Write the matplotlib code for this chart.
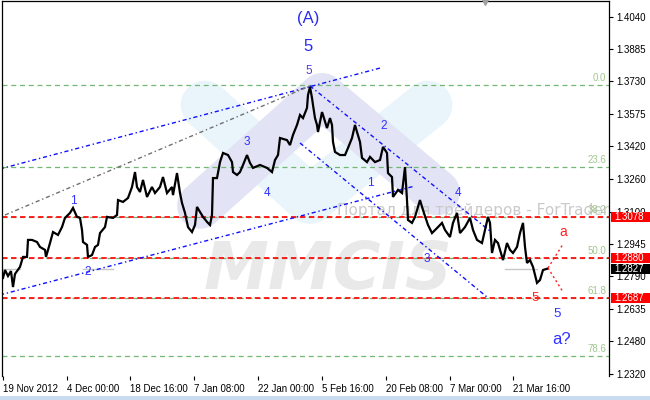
import matplotlib
matplotlib.use("Agg")
import matplotlib.pyplot as plt
import matplotlib.transforms as mtrans
from matplotlib.patches import Rectangle

# ---------------- data ----------------
bars = [3, 5, 8, 11, 13, 15, 20, 23, 27, 28, 32, 37, 40, 45, 46, 50, 53, 58, 62, 65,
        70, 73, 77, 80, 82, 83, 87, 88, 92, 95, 98, 100, 105, 107, 113, 117, 118, 123, 128, 132,
        135, 137, 140, 143, 147, 152, 155, 160, 163, 167, 172, 173, 177, 180, 182, 185, 188, 192, 195, 197,
        200, 203, 207, 210, 212, 213, 217, 220, 223, 228, 232, 233, 237, 240, 243, 247, 250, 253, 260, 267,
        272, 275, 278, 280, 287, 290, 293, 297, 300, 303, 307, 308, 310, 312, 313, 315, 317, 318, 322, 323,
        327, 330, 332, 333, 335, 340, 345, 348, 352, 355, 357, 360, 362, 367, 370, 375, 380, 383, 387, 388,
        392, 393, 398, 402, 405, 407, 408, 412, 415, 420, 423, 428, 432, 437, 442, 445, 450, 453, 457, 460,
        465, 470, 473, 477, 482, 485, 488, 490, 492, 495, 498, 502, 503, 507, 510, 513, 517, 520, 523, 525,
        527, 530, 533, 537, 540, 543, 547]
prices = [1.2783, 1.2821, 1.2792, 1.2816, 1.2739, 1.2802, 1.2836, 1.2884, 1.2884, 1.2966,
          1.2966, 1.2956, 1.2932, 1.2918, 1.2884, 1.2951, 1.3004, 1.2990, 1.3028, 1.3072,
          1.3096, 1.3120, 1.3077, 1.3072, 1.3014, 1.2956, 1.2942, 1.2884, 1.2893, 1.2932,
          1.2942, 1.2999, 1.3028, 1.3077, 1.3072, 1.3086, 1.3158, 1.3149, 1.3168, 1.3221,
          1.3293, 1.3221, 1.3197, 1.3255, 1.3173, 1.3221, 1.3192, 1.3221, 1.3269, 1.3192,
          1.3221, 1.3182, 1.3288, 1.3192, 1.3144, 1.3096, 1.3028, 1.3004, 1.3038, 1.3125,
          1.3101, 1.3077, 1.3053, 1.3038, 1.3086, 1.3264, 1.3264, 1.3341, 1.3385, 1.3375,
          1.3341, 1.3293, 1.3279, 1.3293, 1.3327, 1.3375, 1.3337, 1.3313, 1.3327, 1.3313,
          1.3293, 1.3351, 1.3375, 1.3457, 1.3447, 1.3423, 1.3472, 1.3520, 1.3568, 1.3553,
          1.3602, 1.3664, 1.3703, 1.3650, 1.3616, 1.3553, 1.3520, 1.3486, 1.3582, 1.3568,
          1.3505, 1.3553, 1.3520, 1.3438, 1.3390, 1.3375, 1.3375, 1.3409, 1.3457, 1.3520,
          1.3486, 1.3438, 1.3361, 1.3341, 1.3366, 1.3341, 1.3351, 1.3414, 1.3385, 1.3288,
          1.3269, 1.3173, 1.3207, 1.3192, 1.3317, 1.3158, 1.3062, 1.3048, 1.3077, 1.3158,
          1.3110, 1.3038, 1.2999, 1.3023, 1.3048, 1.3014, 1.2980, 1.3048, 1.3096, 1.2999,
          1.3028, 1.3072, 1.3014, 1.2966, 1.2951, 1.3014, 1.3077, 1.3048, 1.2903, 1.2966,
          1.2951, 1.2884, 1.2869, 1.2951, 1.2918, 1.2903, 1.2932, 1.2999, 1.3048, 1.2932,
          1.2855, 1.2869, 1.2836, 1.2759, 1.2773, 1.2821, 1.2827]

y_ticks = [1.4040, 1.3885, 1.3730, 1.3575, 1.3420, 1.3260, 1.3100, 1.2945,
           1.2790, 1.2635, 1.2480, 1.2320]
x_tick_bars = [3, 67, 130, 194, 258, 322, 386, 450, 513]
x_tick_labels = ["19 Nov 2012", "4 Dec 00:00", "18 Dec 16:00", "7 Jan 08:00",
                 "22 Jan 00:00", "5 Feb 16:00", "20 Feb 08:00", "7 Mar 00:00",
                 "21 Mar 16:00"]

fib_high, fib_low = 1.3710, 1.2050
fib_levels = [0.0, 23.6, 38.2, 50.0, 61.8, 78.6]
red_levels = [1.3078, 1.2880, 1.2687]
current_price = 1.2827

# trend lines: (bar0, price0, bar1, price1)
blue_lines = [(0, 1.3308, 380, 1.3794),
              (0, 1.2701, 415, 1.3226),
              (310, 1.3708, 490, 1.3009),
              (300, 1.3433, 487, 1.2691)]
grey_line = (5, 1.3086, 310, 1.3708)
red_dot_lines = [(548, 1.2831, 563, 1.2946),
                 (548, 1.2831, 563, 1.2715)]

# wave labels: (text, bar, price, colour, size)
wave_labels = [("(A)", 308, 1.4035, "#2a2af0", 12),
               ("5", 308, 1.3900, "#2a2af0", 12),
               ("5", 309, 1.3780, "#5a3ae0", 8.5),
               ("1", 73, 1.3154, "#3030ff", 8.5),
               ("2", 88, 1.2812, "#3030ff", 8.5),
               ("3", 247, 1.3438, "#3030ff", 8.5),
               ("4", 267, 1.3192, "#3030ff", 8.5),
               ("2", 384, 1.3515, "#3030ff", 8.5),
               ("1", 370, 1.3240, "#3030ff", 8.5),
               ("4", 458, 1.3190, "#3030ff", 8.5),
               ("3", 427, 1.2876, "#3030ff", 8.5),
               ("5", 535, 1.2686, "#ff2020", 9.5),
               ("5", 557, 1.2609, "#3030ff", 9.5),
               ("a?", 562, 1.2486, "#3030ff", 12),
               ("a", 563, 1.3004, "#ff2020", 10)]

# watermark logo bands: (bars, prices)
logo_blue = ([205, 310, 428], [1.3616, 1.3160, 1.3616])
logo_lav = ([200, 322, 437], [1.3130, 1.3660, 1.3195])

# ---------------- figure ----------------
W, H = 650, 400
fig = plt.figure(figsize=(6.5, 4.0), dpi=100)
fig.patch.set_facecolor("white")
ax = fig.add_axes([2 / W, 24 / H, 607 / W, 375 / H])
ax.set_xlim(2, 609)
ax.set_ylim(1.23104, 1.41171)
ax.set_facecolor("white")

# watermark logo
ax.plot(logo_blue[0], logo_blue[1], color="#e9f5fb", lw=35,
        solid_capstyle="round", solid_joinstyle="round", zorder=0.5)
ax.plot(logo_lav[0], logo_lav[1], color="#e2e4f5", lw=33,
        solid_capstyle="round", solid_joinstyle="round", zorder=0.6)
ax.text(328, 1.2818, "MMCIS", fontsize=47, fontweight="bold", style="italic",
        color="#e9e9e9", ha="center", va="center", zorder=0.7,
        family="DejaVu Sans")
ax.text(337, 1.3106, "Портал для трейдеров - ForTrader.ru", fontsize=11,
        color="#cacaca", ha="left", va="center", zorder=0.8, clip_on=True,
        family="DejaVu Sans")

# fibonacci levels
for lev in fib_levels:
    p = fib_high - lev / 100.0 * (fib_high - fib_low)
    ax.axhline(p, color="#72b872", lw=0.9, ls=(0, (4, 3)), zorder=1)
    ax.annotate(f"{lev:.1f}", (606, p), xytext=(0, 1.5), textcoords="offset points",
                ha="right", va="bottom", fontsize=7, color="#a2c690",
                family="Liberation Sans", zorder=1.2)

# red levels
for p in red_levels:
    ax.axhline(p, color="#ff1010", lw=1.3, ls=(0, (3, 2)), zorder=1.1)

# short grey marks at the current level
for x0, x1 in [(2, 20), (83, 113), (505, 537)]:
    ax.plot([x0, x1], [current_price, current_price], color="#c8c8c8", lw=1, zorder=1)

# trend lines
for b0, p0, b1, p1 in blue_lines:
    ax.plot([b0, b1], [p0, p1], color="#1010ff", lw=1.0, ls=(0, (3, 2, 1, 2)), zorder=2)
b0, p0, b1, p1 = grey_line
ax.plot([b0, b1], [p0, p1], color="#707070", lw=1.0, ls=(0, (3, 2, 1, 2)), zorder=2)
for b0, p0, b1, p1 in red_dot_lines:
    ax.plot([b0, b1], [p0, p1], color="#ff2020", lw=1.0, ls=(0, (1.5, 2)), zorder=2)

# price
ax.plot(bars, prices, color="black", lw=1.6, zorder=3, solid_joinstyle="miter")

# wave labels
for t, b, p, c, s in wave_labels:
    ax.text(b, p, t, color=c, fontsize=s, ha="center", va="center",
            family="Liberation Sans", zorder=4)

# axes styling
for side in ["left", "right", "top"]:
    ax.spines[side].set_color("black")
    ax.spines[side].set_linewidth(0.9)
ax.spines["bottom"].set_visible(False)
ax.yaxis.tick_right()
ax.set_yticks(y_ticks)
ax.set_yticklabels([f"{v:.4f}" for v in y_ticks], fontsize=7, family="Liberation Sans")
ax.tick_params(axis="y", direction="out", length=3, width=0.8, pad=2, colors="black")
ax.set_xticks(x_tick_bars)
ax.set_xticklabels(x_tick_labels, fontsize=7, family="Liberation Sans", ha="left")
ax.tick_params(axis="x", direction="out", length=3, width=0.8, pad=3, colors="black")
for lbl in ax.get_xticklabels():
    lbl.set_horizontalalignment("left")

# price boxes on the right scale
trans = mtrans.blended_transform_factory(ax.transAxes, ax.transData)
box_h = 10 / 2075.6
x_box = 1.0 + 2 / 607
for p, fc in [(red_levels[0], "#ff0000"), (red_levels[1], "#ff0000"),
              (red_levels[2], "#ff0000"), (current_price, "#000000")]:
    ax.add_patch(Rectangle((x_box, p - box_h / 2), 41 / 607, box_h, transform=trans,
                           facecolor=fc, edgecolor="none", clip_on=False, zorder=6))
    ax.text(x_box + 3 / 607, p, f"{p:.4f}", transform=trans, color="white",
            fontsize=7, family="Liberation Sans", ha="left", va="center",
            clip_on=False, zorder=7)

# chart shift marker
ax.plot([485], [1.4110], marker="v", color="#a0a0a0", ms=5, clip_on=False, zorder=5)

# bottom tab strip
fig.patches.append(Rectangle((0, 0), 1, 4.5 / H, transform=fig.transFigure,
                             facecolor="#c9dbef", edgecolor="none"))

fig.savefig("out.png", dpi=100, facecolor="white")
